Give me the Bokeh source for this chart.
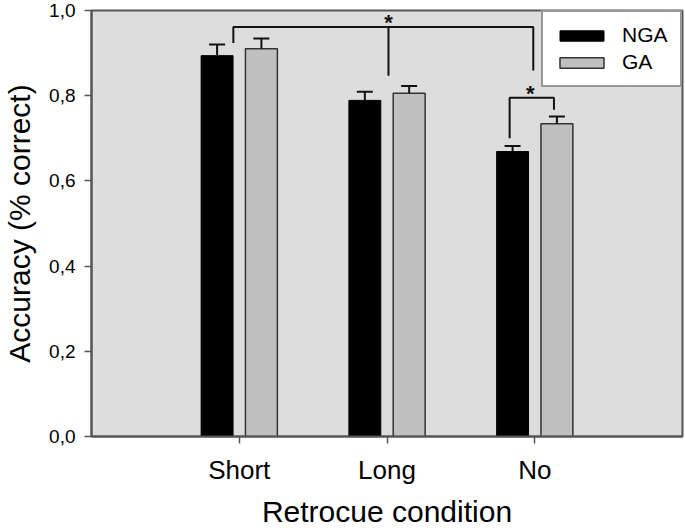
from bokeh.plotting import figure
from bokeh.models import (ColumnDataSource, Range1d, FixedTicker, Whisker, TeeHead,
                          Legend, LegendItem)
from bokeh.core.properties import value
from bokeh.embed import file_html
from bokeh.resources import INLINE

# ---------------- data ----------------
categories = ["Short", "Long", "No"]
cat_pos = [1, 2, 3]
nga_mean = [0.894, 0.789, 0.669]
nga_sem = [0.026, 0.020, 0.013]
ga_mean = [0.910, 0.806, 0.734]
ga_sem = [0.024, 0.017, 0.017]
y_ticks = [0.0, 0.2, 0.4, 0.6, 0.8, 1.0]
y_tick_labels = ["0,0", "0,2", "0,4", "0,6", "0,8", "1,0"]
x_title = "Retrocue condition"
y_title = "Accuracy (% correct)"

# significance brackets (data units)
bracket1_x = [0.96, 0.96, 2.99, 2.99]
bracket1_y = [0.924, 0.961, 0.961, 0.859]
bracket1_mid_x = [2.01, 2.01]
bracket1_mid_y = [0.961, 0.847]
bracket2_x = [2.83, 2.83, 3.13, 3.13]
bracket2_y = [0.700, 0.795, 0.795, 0.767]
star_x = [2.01, 2.97]
star_y = [0.972, 0.806]

FONT = "Liberation Sans"
offset = 0.15
bar_width = 0.216

src_nga = ColumnDataSource(dict(
    x=[c - offset for c in cat_pos], top=nga_mean,
    upper=[m + s for m, s in zip(nga_mean, nga_sem)]))
src_ga = ColumnDataSource(dict(
    x=[c + offset for c in cat_pos], top=ga_mean,
    upper=[m + s for m, s in zip(ga_mean, ga_sem)]))

p = figure(width=685, height=530, output_backend="svg", toolbar_location=None,
           x_range=Range1d(0, 4), y_range=Range1d(0, 1),
           min_border_left=90, min_border_right=3, min_border_top=10, min_border_bottom=94)

p.background_fill_color = "#DDDDDD"
p.border_fill_color = "white"
p.outline_line_color = "#555555"
p.outline_line_width = 2
p.xgrid.visible = False
p.ygrid.visible = False

r_nga = p.vbar(x="x", top="top", width=bar_width, source=src_nga,
               fill_color="black", line_color="black", line_width=1)
r_ga = p.vbar(x="x", top="top", width=bar_width, source=src_ga,
              fill_color="#C0C0C0", line_color="#333333", line_width=1.5)

for src in (src_nga, src_ga):
    w = Whisker(source=src, base="x", lower="top", upper="upper",
                upper_head=TeeHead(size=16, line_width=2, line_color="#111111"),
                lower_head=None, line_width=2, line_color="#111111", level="annotation")
    p.add_layout(w)

p.multi_line(xs=[bracket1_x, bracket1_mid_x, bracket2_x],
             ys=[bracket1_y, bracket1_mid_y, bracket2_y],
             line_color="#111111", line_width=2)
p.text(x=star_x, y=star_y, text=["*", "*"], text_align="center",
       text_baseline="alphabetic", text_font=value(FONT), text_font_size="22px",
       text_font_style="bold", text_color="#111111")

# axes
p.xaxis.ticker = FixedTicker(ticks=cat_pos)
p.xaxis.major_label_overrides = {c: l for c, l in zip(cat_pos, categories)}
p.yaxis.ticker = FixedTicker(ticks=y_ticks)
p.yaxis.major_label_overrides = {t: l for t, l in zip(y_ticks, y_tick_labels)}

for ax in (p.xaxis, p.yaxis):
    ax.axis_line_color = "#555555"
    ax.axis_line_width = 2
    ax.major_tick_line_color = "#555555"
    ax.major_tick_line_width = 1.5
    ax.major_tick_in = 0
    ax.major_tick_out = 7
    ax.minor_tick_line_color = None
    ax.major_label_text_font = FONT
    ax.major_label_text_color = "black"
    ax.major_label_text_line_height = 1.0
    ax.axis_label_text_font = FONT
    ax.axis_label_text_font_style = "normal"
    ax.axis_label_text_color = "black"
    ax.axis_label_text_font_size = "30px"
    ax.axis_label_text_line_height = 1.0

p.xaxis.major_label_text_font_size = "26px"
p.xaxis.major_label_standoff = 11
p.xaxis.axis_label = x_title
p.xaxis.axis_label_standoff = 7

p.yaxis.major_label_text_font_size = "19px"
p.yaxis.major_label_standoff = 9
p.yaxis.axis_label = y_title
p.yaxis.axis_label_standoff = 10

legend = Legend(items=[LegendItem(label="NGA", renderers=[r_nga]),
                       LegendItem(label="GA", renderers=[r_ga])],
                location="top_right", margin=0, padding=11, spacing=3,
                glyph_width=55, glyph_height=13, label_height=23, label_width=47,
                label_standoff=13, label_text_font=FONT, label_text_font_size="21px",
                label_text_color="black", border_line_color="#333333",
                border_line_width=2, background_fill_color="white",
                background_fill_alpha=1.0)
p.add_layout(legend)

open("out.html", "w").write(file_html(p, INLINE))
